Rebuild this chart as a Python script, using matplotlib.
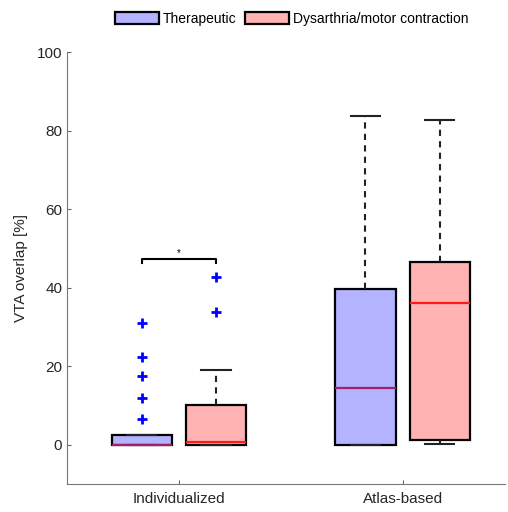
import matplotlib.pyplot as plt
from matplotlib.patches import Patch

plt.rcParams['font.family'] = ['Liberation Sans', 'DejaVu Sans']

# box summary values (VTA overlap in %)
groups = ['Individualized', 'Atlas-based']
conditions = ['Therapeutic', 'Dysarthria/motor contraction']
q1 = [[0.0, 0.0], [0.0, 1.3]]
med = [[0.0, 0.7], [14.4, 36.0]]
q3 = [[2.4, 10.2], [39.6, 46.5]]
whislo = [[0.0, 0.0], [0.0, 0.25]]
whishi = [[2.4, 19.1], [83.8, 82.7]]
fliers = [[[6.6, 11.8, 17.5, 22.3, 30.9], [33.8, 42.8]], [[], []]]

fill_colors = ['#b3b3ff', '#ffb3b3']
median_colors = ['#a0206a', '#ff1a1a']

fig = plt.figure(figsize=(5.08, 5.12), dpi=100)
ax = fig.add_axes([0.132, 0.055, 0.863, 0.843])

offset = 0.166
for g in range(len(groups)):
    for c in range(len(conditions)):
        stats = [dict(med=med[g][c], q1=q1[g][c], q3=q3[g][c],
                      whislo=whislo[g][c], whishi=whishi[g][c],
                      fliers=fliers[g][c])]
        pos = g + 1 + (c - 0.5) * 2 * offset
        ax.bxp(stats, positions=[pos], widths=0.27, capwidths=0.13,
               patch_artist=True, manage_ticks=False,
               boxprops=dict(facecolor=fill_colors[c], edgecolor='black', linewidth=1.6),
               medianprops=dict(color=median_colors[c], linewidth=1.6),
               whiskerprops=dict(color='#222222', linestyle=(0, (3, 2.5)), linewidth=1.5),
               capprops=dict(color='#222222', linewidth=1.5),
               flierprops=dict(marker='+', markeredgecolor='blue', markersize=7,
                               markeredgewidth=2, linestyle='none'))

# significance bracket between the two individualized boxes
x0, x1, yb = 1 - offset, 1 + offset, 47.2
ax.plot([x0, x0, x1, x1], [yb - 0.9, yb, yb, yb - 0.9], color='black', linewidth=1.5)
ax.text(1, yb + 0.3, '*', ha='center', va='bottom', fontsize=7)

ax.set_xlim(0.5, 2.46)
ax.set_ylim(-10, 100)
ax.set_xticks([1, 2])
ax.set_xticklabels(groups)
ax.set_yticks(range(0, 101, 20))
ax.set_ylabel('VTA overlap [%]', fontsize=11, color='#262626', labelpad=6)
ax.tick_params(direction='in', length=3, labelsize=11, colors='#262626')
ax.tick_params(axis='x', pad=6)
ax.tick_params(axis='both', color='#666666')
for s in ['top', 'right']:
    ax.spines[s].set_visible(False)
for s in ['left', 'bottom']:
    ax.spines[s].set_color('#777777')

handles = [Patch(facecolor=fill_colors[c], edgecolor='black', linewidth=1.6) for c in range(2)]
fig.legend(handles, conditions, loc='center', bbox_to_anchor=(0.574, 0.963), ncol=2,
           frameon=False, fontsize=10, handlelength=3.2, handleheight=0.95,
           handletextpad=0.25, columnspacing=0.6)

fig.savefig('out.png', dpi=100)
